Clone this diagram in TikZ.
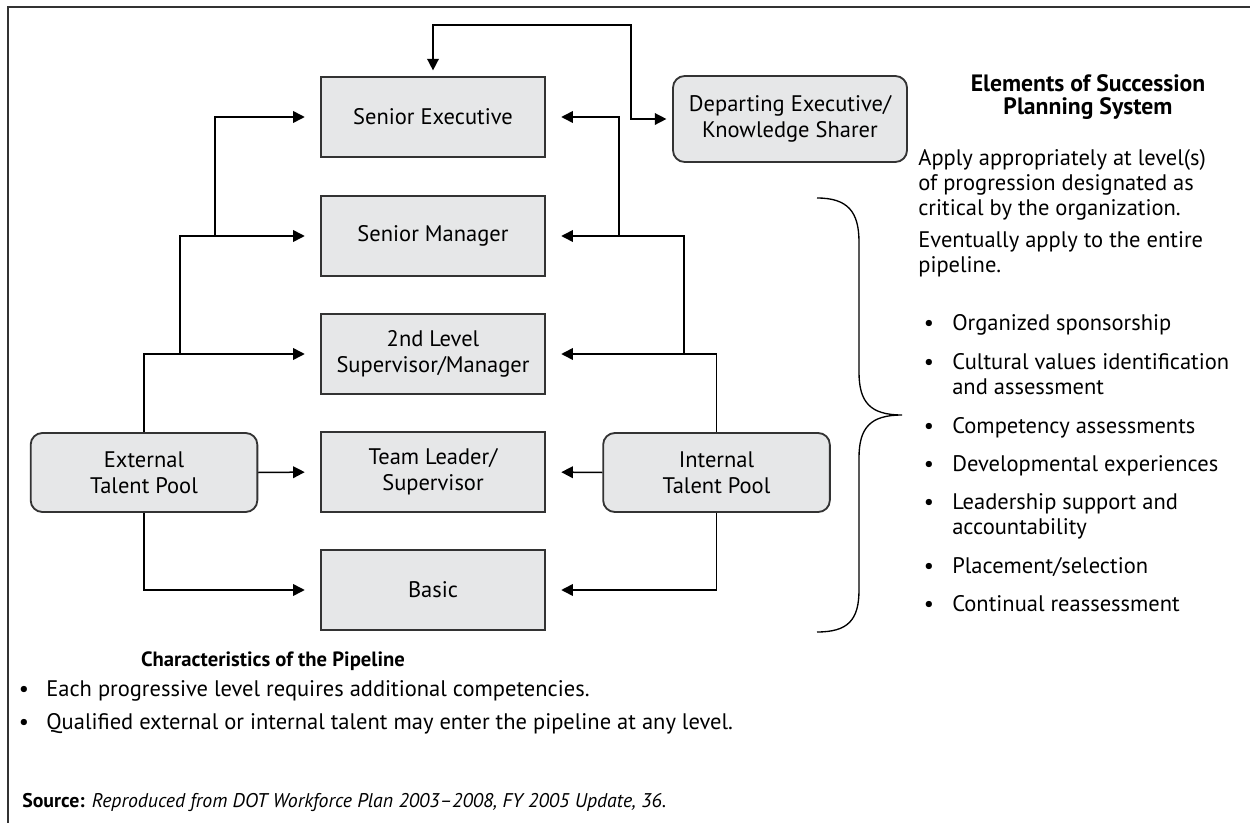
\documentclass[tikz,border=0pt]{standalone}
\usepackage{fontspec}
\setmainfont{PT Sans}
\usetikzlibrary{arrows.meta}
\definecolor{boxgray}{HTML}{E6E7E8}
\definecolor{edgegray}{HTML}{333333}
\begin{document}
\begin{tikzpicture}[x=0.6pt,y=-0.6pt,
  txt/.style={font=\fontsize{13.5}{15.5}\selectfont, inner sep=0pt},
  level/.style={txt, draw=edgegray, line width=1.1pt, fill=boxgray,
    minimum width=134.4pt, minimum height=48pt, align=center},
  pool/.style={level, rounded corners=7pt, minimum width=136pt, minimum height=47.4pt},
  tipd/.tip={Triangle[length=7pt,width=7pt]},
  link/.style={line width=0.9pt, -tipd, shorten >=9.2pt},
  twoway/.style={line width=0.9pt, tipd-tipd, shorten >=3.4pt, shorten <=3.4pt},
  line/.style={txt, anchor=base west},
  dot/.style={txt, anchor=base},
  head/.style={txt, anchor=base, font=\fontsize{14.2}{16}\selectfont\bfseries},
]
\useasboundingbox (0,0) rectangle (1250,823);

% frame (top and left rules)
\draw[line width=1.2pt, edgegray] (8,823) -- (8,7) -- (1250,7);

% pipeline levels
\node[level] (se) at (433,117) {Senior Executive};
\node[level] (sm) at (433,236) {Senior Manager};
\node[level] (l2) at (433,354) {2nd Level\\Supervisor/Manager};
\node[level] (tl) at (433,472) {Team Leader/\\Supervisor};
\node[level] (ba) at (433,590) {Basic};

% talent pools and departing executive
\node[pool] (ext) at (144,472.5) {External\\Talent Pool};
\node[pool] (int) at (716.5,472.5) {Internal\\Talent Pool};
\node[pool, minimum width=140.4pt, minimum height=51.6pt] (dep) at (790,119)
  {Departing Executive/\\Knowledge Sharer};

% external talent feeding each level
\coordinate (xa) at (180,354);
\coordinate (xb) at (215,236);
\draw[link] (ext.north) |- (l2.west);
\draw[link] (xa) |- (sm.west);
\draw[link] (xb) |- (se.west);
\draw[link] (ext.east) -- (tl.west);
\draw[link] (ext.south) |- (ba.west);

% internal talent feeding each level
\coordinate (ia) at (684,354);
\coordinate (ib) at (619,236);
\draw[link] (int.north) |- (l2.east);
\draw[link] (ia) |- (sm.east);
\draw[link] (ib) |- (se.east);
\draw[link] (int.west) -- (tl.east);
\draw[link] (int.south) |- (ba.east);

% knowledge-sharing loop
\coordinate (lp1) at (433,25);
\coordinate (lp2) at (631,25);
\draw[twoway] (se.north) -- (lp1) -- (lp2) |- (dep.west);

% brace
\draw[line width=0.8pt] (817,198) .. controls (848,198) and (859,212) .. (859,242)
  -- (859,372) .. controls (859,402) and (870,415) .. (902,415)
  .. controls (870,415) and (859,428) .. (859,458)
  -- (859,590) .. controls (859,620) and (848,632) .. (817,632);

% elements of the succession planning system
\node[head] (elt1) at (1088,91) {Elements of Succession};
\node[head] (elt2) at (1088,114) {Planning System};
\node[line] (p1a) at (918,165) {Apply appropriately at level(s)};
\node[line] (p1b) at (918,190) {of progression designated as};
\node[line] (p1c) at (918,215) {critical by the organization.};
\node[line] (p2a) at (918,247) {Eventually apply to the entire};
\node[line] (p2b) at (918,272) {pipeline.};
\foreach \y/\t [count=\i] in {330/{Organized sponsorship},
    369/{Cultural values identification},
    433/{Competency assessments},
    471/{Developmental experiences},
    509/{Leadership support and},
    573/{Placement/selection},
    611/{Continual reassessment}}{
  \node[dot] (eb\i) at (929,\y) {•};
  \node[line] (e\i) at (952,\y) {\t};
}
\node[line] (e2b) at (952,394) {and assessment};
\node[line] (e5b) at (952,534) {accountability};

% characteristics of the pipeline
\node[head, font=\fontsize{12.4}{15}\selectfont\bfseries] (cht) at (273,666)
  {Characteristics of the Pipeline};
\node[dot] (cb1) at (24,696) {•};
\node[line] (c1) at (46,696) {Each progressive level requires additional competencies.};
\node[dot] (cb2) at (24,729) {•};
\node[line] (c2) at (46,729) {Qualified external or internal talent may enter the pipeline at any level.};

% source line
\node[line, font=\fontsize{11.9}{13}\selectfont] (src) at (22,807)
  {\textbf{Source:} \textit{Reproduced from DOT Workforce Plan 2003–2008, FY 2005 Update, 36.}};
\end{tikzpicture}
\end{document}
